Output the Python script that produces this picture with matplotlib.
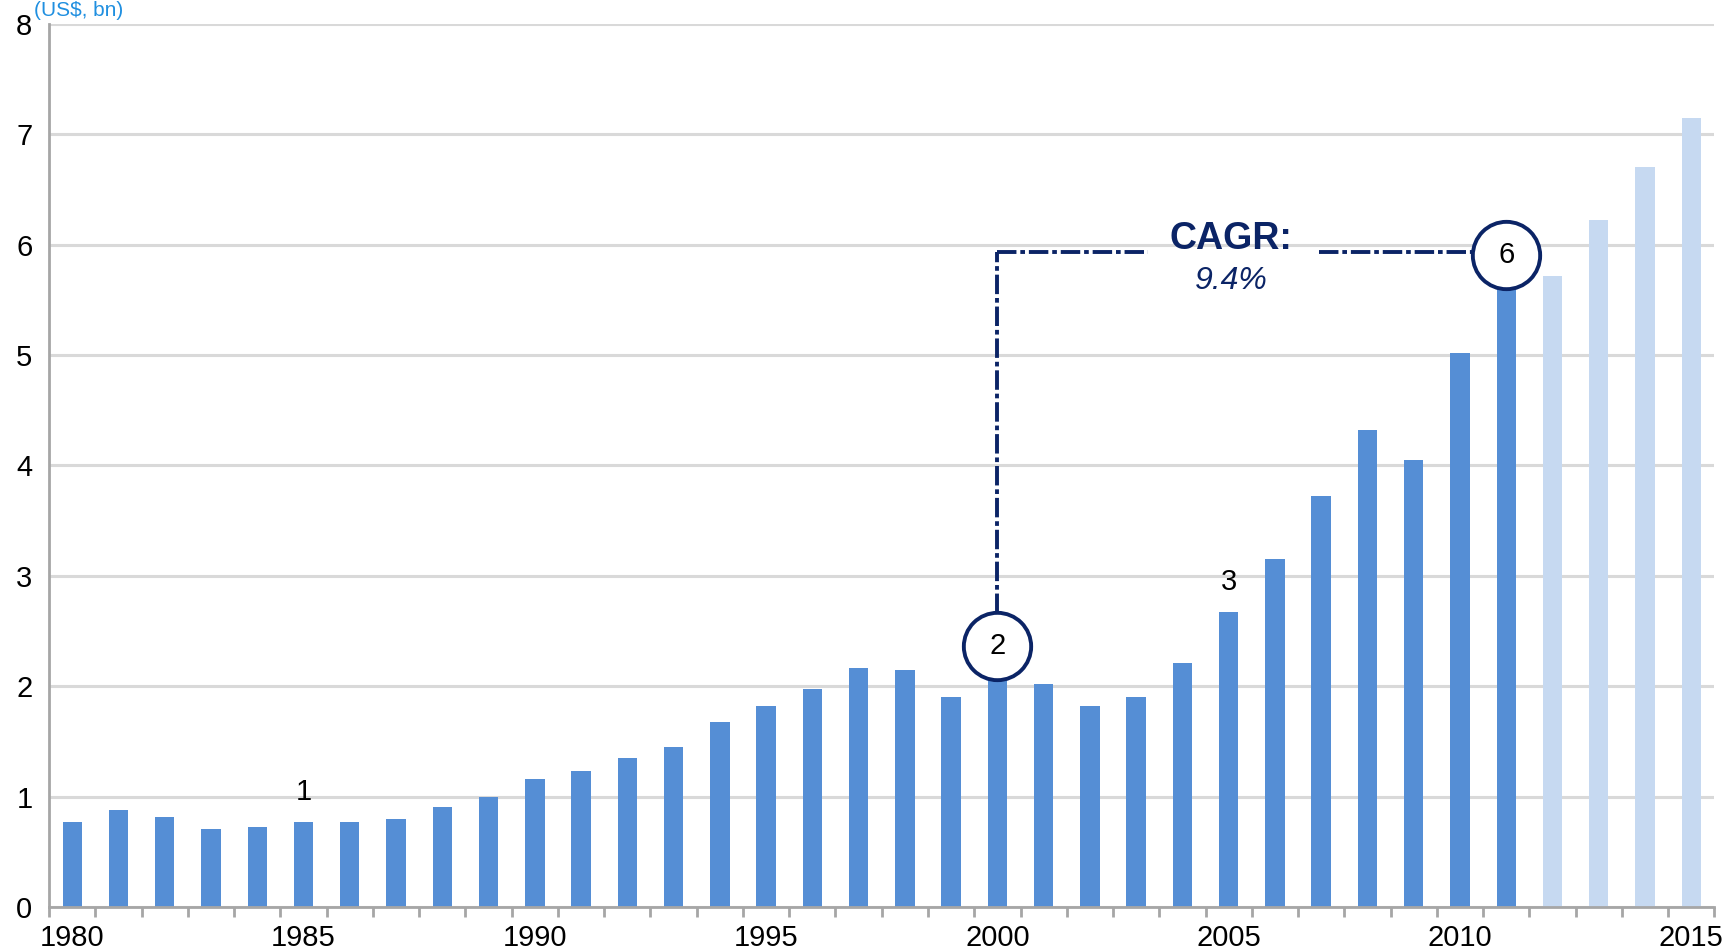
import numpy as np
import matplotlib.pyplot as plt
from matplotlib.ticker import FixedLocator

plt.rcParams["font.family"] = ["Liberation Sans", "DejaVu Sans"]

years = list(range(1980, 2016))
values = [
    0.77, 0.88, 0.82, 0.71, 0.73, 0.77, 0.77, 0.80, 0.91, 1.00,
    1.16, 1.23, 1.35, 1.45, 1.68, 1.82, 1.98, 2.17, 2.15, 1.90,
    2.10, 2.02, 1.82, 1.90, 2.21, 2.67, 3.15, 3.72, 4.32, 4.05,
    5.02, 5.70, 5.72, 6.22, 6.70, 7.15,
]
last_actual = 2011
label_years = [1980, 1985, 1990, 1995, 2000, 2005, 2010, 2015]

# numbered notes: plain labels and circled labels
plain_notes = {1985: "1", 2005: "3"}
circle_notes = {2000: ("2", 2.37), 2011: ("6", 5.91)}
cagr_text = "CAGR:"
cagr_value = "9.4%"

dark = "#558ED5"
light = "#C6D9F1"
navy = "#0B2466"

x = np.arange(len(years))
colors = [dark if y <= last_actual else light for y in years]

fig = plt.figure(figsize=(17.23, 9.5), dpi=100)
ax = fig.add_axes([0.0285, 0.045, 0.9665, 0.93])

ax.bar(x, values, width=0.42, color=colors, zorder=2)

ax.set_xlim(-0.5, len(years) - 0.5)
ax.set_ylim(0, 8)
ax.set_yticks(range(0, 9))
ax.yaxis.grid(True, color="#D9D9D9", linewidth=2.2, zorder=0)
ax.tick_params(axis="y", length=0, labelsize=21, pad=12)

ax.set_xticks([years.index(y) for y in label_years])
ax.set_xticklabels([str(y) for y in label_years])
ax.xaxis.set_minor_locator(FixedLocator(np.arange(-0.5, len(years), 1.0)))
ax.tick_params(axis="x", which="major", length=0, labelsize=21, pad=12)
ax.tick_params(axis="x", which="minor", length=7, width=2, color="#A6A6A6")

for side in ["top", "right"]:
    ax.spines[side].set_visible(False)
for side in ["left", "bottom"]:
    ax.spines[side].set_color("#A6A6A6")
    ax.spines[side].set_linewidth(2)

for yr, txt in plain_notes.items():
    i = years.index(yr)
    ax.text(i, values[i] + 0.15, txt, ha="center", va="bottom", fontsize=21)

# CAGR bracket
i_a = years.index(2000)
i_b = years.index(2011)
y_line = 5.93
ls = (0, (5, 1.0, 1.2, 1.0))
ax.plot([i_a, i_a], [2.66, y_line], color=navy, lw=2.8, linestyle=ls, zorder=3)
ax.plot([i_a, 23.26], [y_line, y_line], color=navy, lw=2.8, linestyle=ls, zorder=3)
ax.plot([26.95, i_b], [y_line, y_line], color=navy, lw=2.8, linestyle=ls, zorder=3)
ax.text(25.05, 6.05, cagr_text, ha="center", va="center", fontsize=27,
        fontweight="bold", color=navy, zorder=4)
ax.text(25.05, 5.67, cagr_value, ha="center", va="center", fontsize=23,
        fontstyle="italic", color=navy, zorder=4)

for yr, (txt, yc) in circle_notes.items():
    i = years.index(yr)
    ax.scatter([i], [yc], s=2350, facecolor="white", edgecolor=navy,
               linewidth=2.8, zorder=5)
    ax.text(i, yc, txt, ha="center", va="center", fontsize=21, zorder=6)

fig.text(0.02, 0.999, "(US$, bn)", ha="left", va="top", fontsize=15,
         color="#1F8FE0")

fig.savefig("out.png", dpi=100)
